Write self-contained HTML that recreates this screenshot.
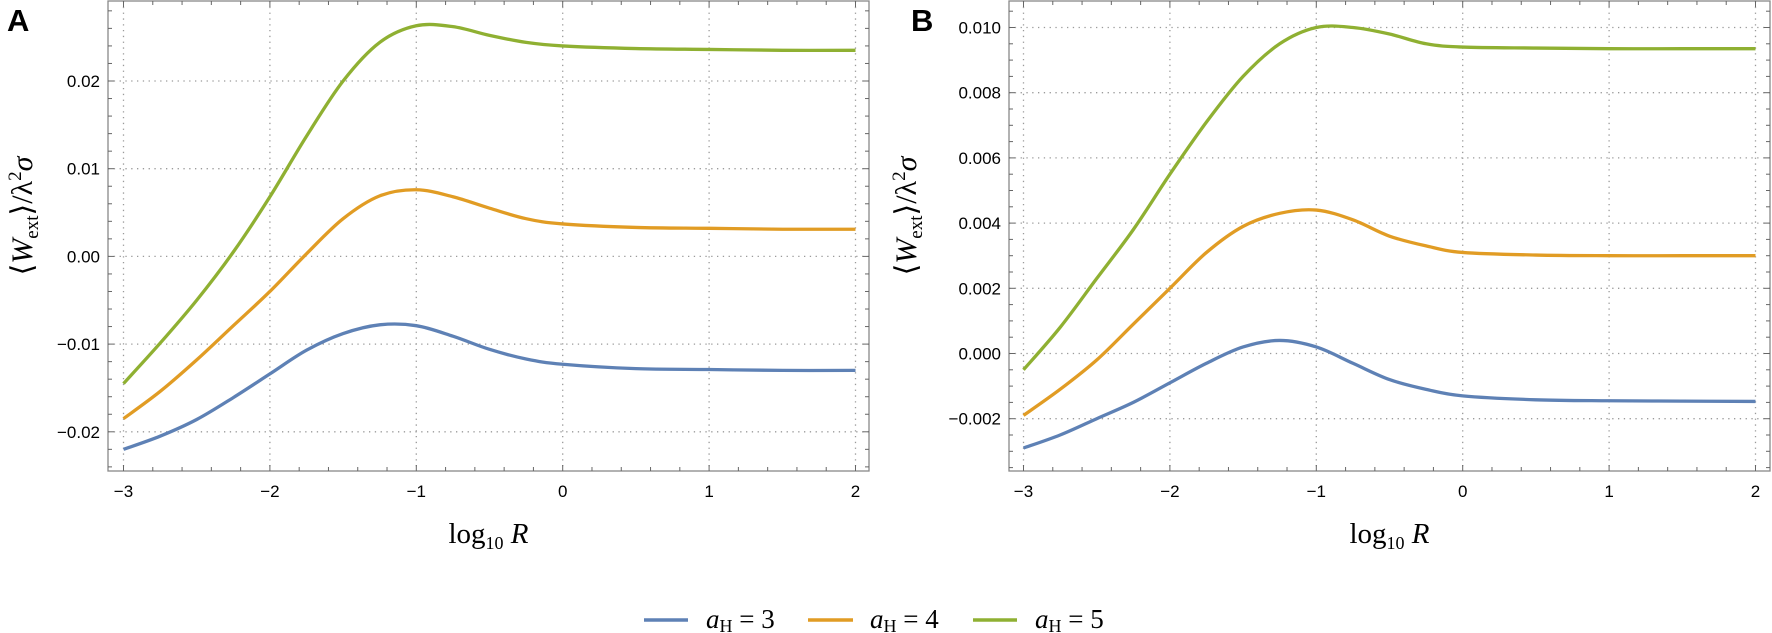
<!DOCTYPE html>
<html><head><meta charset="utf-8">
<style>
html,body{margin:0;padding:0;background:#fff;}
svg{display:block;}
.tick{font-family:"Liberation Sans",sans-serif;font-size:17px;fill:#000;}
.math{font-family:"Liberation Serif",serif;fill:#000;}
</style></head>
<body>
<svg id="chart" width="1772" height="633" viewBox="0 0 1772 633" xmlns="http://www.w3.org/2000/svg">
<text x="7" y="31" font-family="Liberation Sans, sans-serif" font-weight="bold" font-size="31">A</text>
<text x="911" y="31" font-family="Liberation Sans, sans-serif" font-weight="bold" font-size="31">B</text>
<g>
  <g>
    <line x1="644" y1="620" x2="688" y2="620" stroke="#5E81B5" stroke-width="3.5"/>
    <text x="706" y="628" class="math" font-size="27"><tspan font-style="italic">a</tspan><tspan font-size="18" dy="4">H</tspan><tspan dy="-4"> = 3</tspan></text>
  </g>
  <g>
    <line x1="808" y1="620" x2="853" y2="620" stroke="#E19C24" stroke-width="3.5"/>
    <text x="870" y="628" class="math" font-size="27"><tspan font-style="italic">a</tspan><tspan font-size="18" dy="4">H</tspan><tspan dy="-4"> = 4</tspan></text>
  </g>
  <g>
    <line x1="973" y1="620" x2="1017" y2="620" stroke="#8FB032" stroke-width="3.5"/>
    <text x="1035" y="628" class="math" font-size="27"><tspan font-style="italic">a</tspan><tspan font-size="18" dy="4">H</tspan><tspan dy="-4"> = 5</tspan></text>
  </g>
</g>
</svg>
<script>
const xs = [-3,-2.75,-2.5,-2.25,-2,-1.75,-1.5,-1.25,-1,-0.75,-0.5,-0.25,0,0.5,1,1.5,2];
const seriesNames = ["a_H = 3","a_H = 4","a_H = 5"];
const aBlue = [-0.0220,-0.0205,-0.0186,-0.0161,-0.0134,-0.0107,-0.0088,-0.0078,-0.0079,-0.0091,-0.0106,-0.0117,-0.0123,-0.0128,-0.0129,-0.0130,-0.0130];
const aOrange = [-0.0185,-0.0154,-0.0118,-0.0079,-0.0040,0.0003,0.0043,0.0069,0.0076,0.0068,0.0055,0.0043,0.0037,0.0033,0.0032,0.0031,0.0031];
const aGreen = [-0.0145,-0.0099,-0.0050,0.0005,0.0068,0.0137,0.0200,0.0244,0.0263,0.0262,0.0252,0.0244,0.0240,0.0237,0.0236,0.0235,0.0235];
const bBlue = [-0.0029,-0.0025,-0.0020,-0.0015,-0.0009,-0.0003,0.0002,0.0004,0.0002,-0.0003,-0.0008,-0.0011,-0.0013,-0.00142,-0.00145,-0.00146,-0.00147];
const bOrange = [-0.0019,-0.0011,-0.0002,0.0009,0.0020,0.0031,0.0039,0.0043,0.0044,0.0041,0.0036,0.0033,0.0031,0.00302,0.0030,0.0030,0.0030];
const bGreen = [-0.0005,0.0008,0.0023,0.0038,0.0055,0.0071,0.0085,0.0095,0.0100,0.0100,0.0098,0.0095,0.0094,0.00937,0.00935,0.00935,0.00935];
const xTicks = [-3,-2,-1,0,1,2];
const aYTicks = [-0.02,-0.01,0,0.01,0.02];
const aYLabels = ["\u22120.02","\u22120.01","0.00","0.01","0.02"];
const bYTicks = [-0.002,0,0.002,0.004,0.006,0.008,0.010];
const bYLabels = ["\u22120.002","0.000","0.002","0.004","0.006","0.008","0.010"];
const colors = ["#5E81B5","#E19C24","#8FB032"];

const NS = "http://www.w3.org/2000/svg";
const svg = document.getElementById('chart');
function mk(tag, attrs, parent){
  const e = document.createElementNS(NS, tag);
  for (const k in attrs) e.setAttribute(k, attrs[k]);
  (parent||svg).appendChild(e); return e;
}
function panel(id, left, x0px, yRef, yRefPx, pxPerUnitY, yMin, yMax, yMinorStep, yTicks, yLabels, series, ylabX){
  const right = left + 761, top = 1, bottom = 471;
  const g = mk('g', {});
  
  
  const X = v => x0px + (v + 3) * 146.4;
  const Y = v => yRefPx - (v - yRef) * pxPerUnitY;
  xTicks.forEach(t => {
    const l = mk('line', {x1:X(t), x2:X(t), y1:top, y2:bottom, stroke:'#9a9a9a', 'stroke-width':1.3, 'stroke-dasharray':'1.3 4.5'}, g);
    
    
  });
  yTicks.forEach(t => {
    const l = mk('line', {x1:left, x2:right, y1:Y(t), y2:Y(t), stroke:'#9a9a9a', 'stroke-width':1.3, 'stroke-dasharray':'1.3 4.5'}, g);
    
    
  });
  const fr = mk('rect', {x:left, y:top, width:right-left, height:bottom-top, fill:'none', stroke:'#888', 'stroke-width':1.3}, g);
  
  
  for (let i = 0; i <= 25; i++) {
    const v = -3 + i * 0.2; const major = i % 5 === 0; const len = major ? 6 : 4;
    mk('line', {x1:X(v), x2:X(v), y1:bottom, y2:bottom-len, stroke:'#666', 'stroke-width':1}, g);
    mk('line', {x1:X(v), x2:X(v), y1:top, y2:top+len, stroke:'#666', 'stroke-width':1}, g);
  }
  xTicks.forEach(t => {
    const tx = mk('text', {x:X(t), y:497, 'text-anchor':'middle', class:'tick'}, g);
    tx.textContent = t < 0 ? '\u2212' + Math.abs(t) : String(t);
    
    
  });
  const n0 = Math.ceil(yMin / yMinorStep - 1e-9), n1 = Math.floor(yMax / yMinorStep + 1e-9);
  for (let n = n0; n <= n1; n++) {
    const v = n * yMinorStep;
    const major = yTicks.some(t => Math.abs(t - v) < yMinorStep / 10);
    const len = major ? 6 : 4;
    mk('line', {x1:left, x2:left+len, y1:Y(v), y2:Y(v), stroke:'#666', 'stroke-width':1}, g);
    mk('line', {x1:right, x2:right-len, y1:Y(v), y2:Y(v), stroke:'#666', 'stroke-width':1}, g);
  }
  yTicks.forEach((t, i) => {
    const tx = mk('text', {x:left-8, y:Y(t)+6, 'text-anchor':'end', class:'tick'}, g);
    tx.textContent = yLabels[i];
    
    
  });
  series.forEach((vals, si) => {
    const pts = xs.map((x, i) => [X(x), Y(vals[i])]);
    let d = 'M' + pts[0][0] + ',' + pts[0][1];
    for (let i = 0; i < pts.length - 1; i++) {
      const p0 = pts[Math.max(0, i-1)], p1 = pts[i], p2 = pts[i+1], p3 = pts[Math.min(pts.length-1, i+2)];
      const c1x = p1[0] + (p2[0]-p0[0])/6, c1y = p1[1] + (p2[1]-p0[1])/6;
      const c2x = p2[0] - (p3[0]-p1[0])/6, c2y = p2[1] - (p3[1]-p1[1])/6;
      d += ' C' + c1x + ',' + c1y + ' ' + c2x + ',' + c2y + ' ' + p2[0] + ',' + p2[1];
    }
    const p = mk('path', {d:d, fill:'none', stroke:colors[si], 'stroke-width':3.3, 'stroke-linecap':'butt'}, g);
    
    
  });
  const xl = mk('text', {x:(left+right)/2, y:543, 'text-anchor':'middle', class:'math', 'font-size':29}, g);
  xl.innerHTML = 'log<tspan font-size="18" dy="6">10</tspan><tspan dy="-6" font-style="italic"> R</tspan>';
  
  
  const yl = mk('text', {x:0, y:0, 'text-anchor':'middle', class:'math', 'font-size':30, transform:'translate(' + (ylabX+10) + ',216) rotate(-90)'}, g);
  yl.innerHTML = '\u27E8<tspan font-style="italic">W</tspan><tspan font-size="19" dy="6">ext</tspan><tspan dy="-6">\u27E9/\u03BB</tspan><tspan font-size="19" dy="-11">2</tspan><tspan dy="11" font-style="italic">\u03C3</tspan>';
  
  
}
panel('a', 108, 123.5, 0.02, 81, 8770, -0.0245, 0.029, 0.002, aYTicks, aYLabels, [aBlue, aOrange, aGreen], 22);
panel('b', 1009, 1023.5, 0.010, 27.5, 32600, -0.0036, 0.0108, 0.0005, bYTicks, bYLabels, [bBlue, bOrange, bGreen], 906);
</script>
</body></html>
